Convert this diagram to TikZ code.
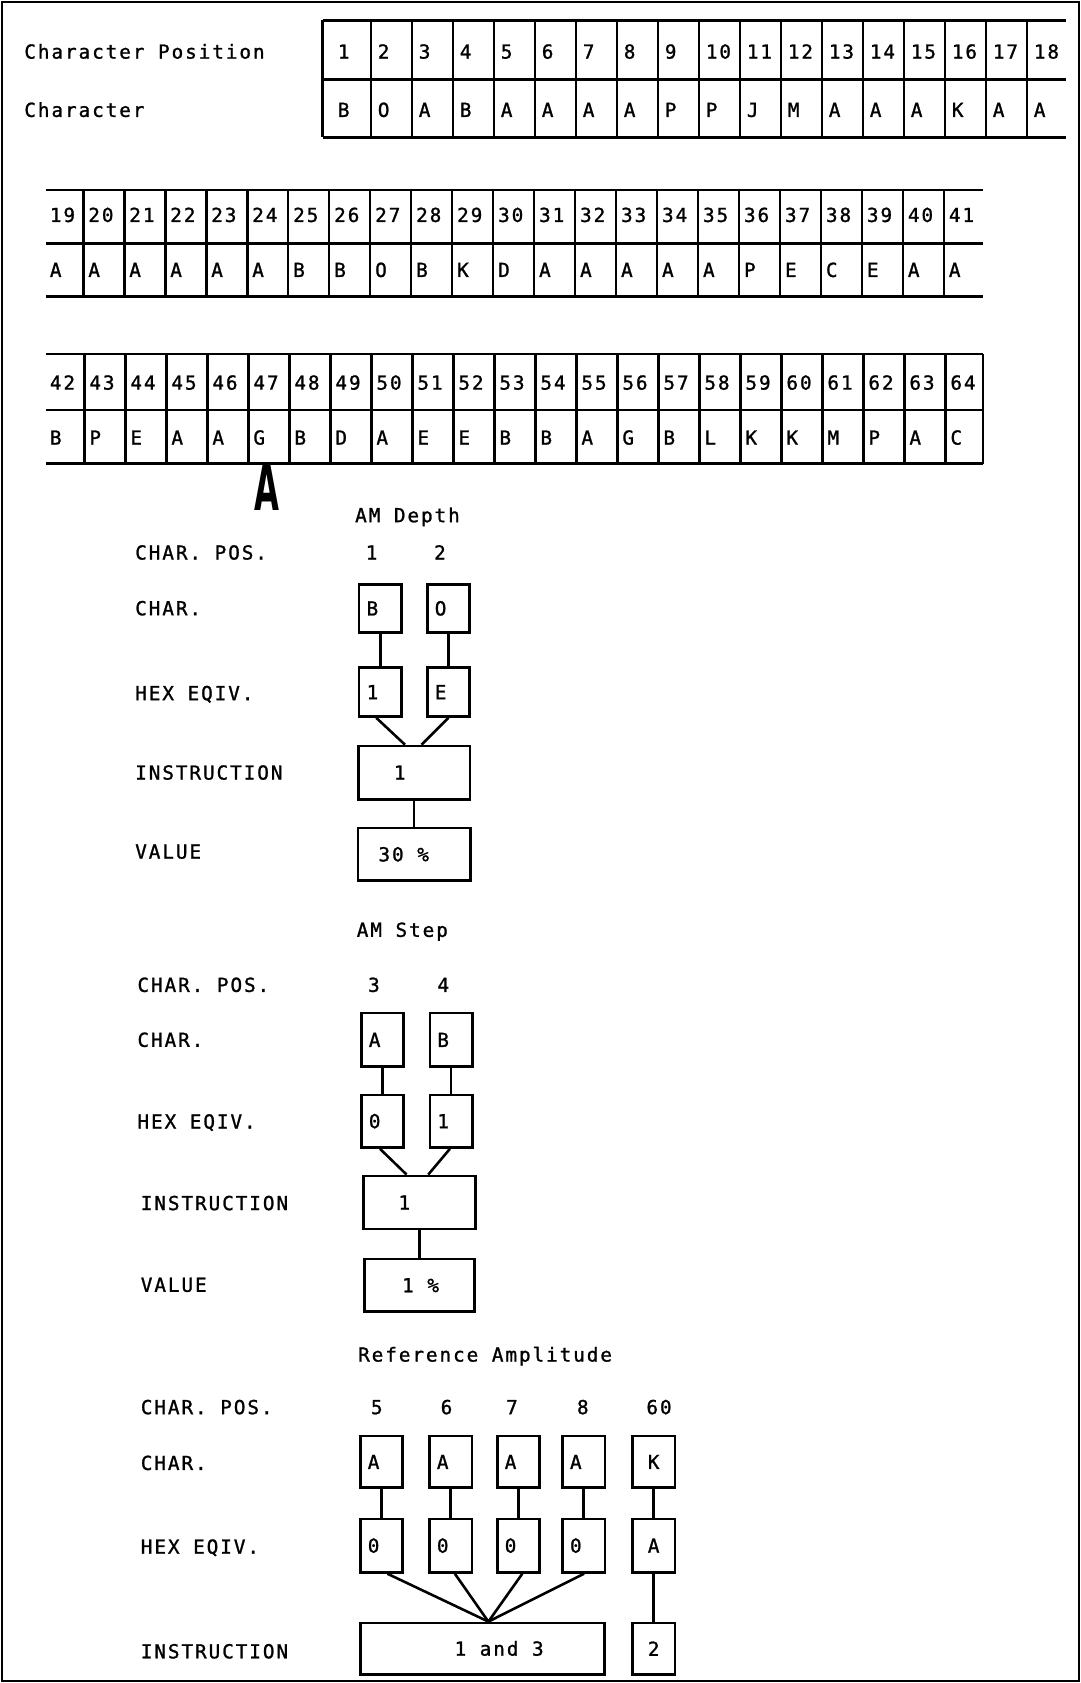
\documentclass[tikz,border=0pt]{standalone}
\usepackage{graphicx}
\usepackage{fontspec}
\newfontfamily\twf[LetterSpace=10,FakeBold=1.2]{DejaVu Sans Mono}
\newfontfamily\scrf{DejaVu Sans}
\usetikzlibrary{calc}
\begin{document}
\begin{tikzpicture}[x=1pt,y=-1pt,
  ln/.style={line width=2.4pt},
  txt/.style={font=\twf\fontsize{18}{21}\selectfont, inner sep=0pt, anchor=base west},
  ctxt/.style={font=\twf\fontsize{18}{21}\selectfont, inner sep=0pt, anchor=base},
  sb/.style={draw, line width=2.4pt, font=\twf\fontsize{18}{21}\selectfont, minimum width=39.5pt, minimum height=#1, inner ysep=0pt, inner xsep=7pt, text width=25.5pt, align=left},
  sbc/.style={sb=#1, align=center},
  bb/.style={draw, line width=2.4pt, inner sep=0pt},
]
\useasboundingbox (0,0) rectangle (1007,1568);
\draw[line width=2.2pt] (1.8,1.8) rectangle (1005.2,1566);

% ---------- table row 1 ----------
\node[txt] (lcp) at (22.5,54.6) {Character Position};
\node[txt] (lch) at (22.5,108.9) {Character};
\draw[ln] (300.6,19) -- (993,19) (300.6,74) -- (993,74) (300.6,128) -- (993,128) (300.6,19) -- (300.6,128);
\foreach \k in {0,...,16} \draw[ln] ({345.8+38.2*\k},19) -- ({345.8+38.2*\k},128);
\node[txt] (n1) at (314.6,54.6) {1};
\node[txt] (c1) at (314.6,108.9) {B};
\foreach \i/\c [evaluate=\i as \xx using 345.8+38.2*(\i-2)+6] in {2/O,3/A,4/B,5/A,6/A,7/A,8/A,9/P,10/P,11/J,12/M,13/A,14/A,15/A,16/K,17/A,18/A} {
  \node[txt] (n\i) at (\xx,54.6) {\i};
  \node[txt] (c\i) at (\xx,108.9) {\c};
}

% ---------- table row 2 ----------
\draw[ln] (42.8,177) -- (916,177) (42.8,227) -- (916,227) (42.8,276) -- (916,276);
\foreach \k in {0,...,21} \draw[ln] ({77.6+38.18*\k},177) -- ({77.6+38.18*\k},276);
\node[txt] (n19) at (46.3,206.8) {19};
\node[txt] (c19) at (46.3,258) {A};
\foreach \i/\c [evaluate=\i as \xx using 77.6+38.18*(\i-20)+4.5] in {20/A,21/A,22/A,23/A,24/A,25/B,26/B,27/O,28/B,29/K,30/D,31/A,32/A,33/A,34/A,35/A,36/P,37/E,38/C,39/E,40/A,41/A} {
  \node[txt] (n\i) at (\xx,206.8) {\i};
  \node[txt] (c\i) at (\xx,258) {\c};
}

% ---------- table row 3 ----------
\draw[ln] (42.8,330) -- (916,330) (42.8,382) -- (916,382) (42.8,432) -- (916,432) (916,330) -- (916,432);
\foreach \k in {0,...,21} \draw[ln] ({78.6+38.2*\k},330) -- ({78.6+38.2*\k},432);
\node[txt] (n42) at (46.3,363) {42};
\node[txt] (c42) at (46.3,414.2) {B};
\foreach \i/\c [evaluate=\i as \xx using 78.6+38.2*(\i-43)+4.5] in {43/P,44/E,45/A,46/A,47/G,48/B,49/D,50/A,51/E,52/E,53/B,54/B,55/A,56/G,57/B,58/L,59/K,60/K,61/M,62/P,63/A,64/C} {
  \node[txt] (n\i) at (\xx,363) {\i};
  \node[txt] (c\i) at (\xx,414.2) {\c};
}

% handwritten mark
\node[inner sep=0pt, font=\scrf\bfseries\fontsize{60}{60}\selectfont] (scr) at (248.5,454) {\scalebox{0.5}[1]{A}};

% ---------- AM Depth ----------
\node[txt] (tad) at (330.7,486.5) {AM Depth};
\node[txt] (dl1) at (125.8,521.3) {CHAR. POS.};
\node[txt] (dl2) at (125.8,573.2) {CHAR.};
\node[txt] (dl3) at (125.8,652.3) {HEX EQIV.};
\node[txt] (dl4) at (125.8,726.3) {INSTRUCTION};
\node[txt] (dl5) at (125.8,799.9) {VALUE};
\node[ctxt] (dp1) at (346.2,521.3) {1};
\node[ctxt] (dp2) at (409.9,521.3) {2};
\node[sb=45pt] (dc1) at (354.3,566.8) {B};
\node[sb=45pt] (dc2) at (417.8,566.8) {O};
\node[sb=45.6pt] (dh1) at (354.3,644.8) {1};
\node[sb=45.6pt] (dh2) at (417.8,644.8) {E};
\node[bb, minimum width=104pt, minimum height=49.6pt] (di) at (385.8,719.8) {};
\node[txt] (dit) at ($(di.west)+(34.2,6.5)$) {1};
\node[bb, minimum width=104.7pt, minimum height=48.8pt] (dv) at (385.8,796) {};
\node[txt] (dvt) at ($(dv.west)+(20.2,6.5)$) {30 \%};
\draw[ln] (dc1.south) -- (dh1.north);
\draw[ln] (dc2.south) -- (dh2.north);
\draw[ln] ($(dh1.south)+(-3.7,0)$) -- ($(di.north)+(-8.5,0)$);
\draw[ln] (dh2.south) -- ($(di.north)+(7,0)$);
\draw[ln] (di.south) -- (dv.north);

% ---------- AM Step ----------
\node[txt] (tas) at (332.2,872.8) {AM Step};
\node[txt] (sl1) at (127.9,924.1) {CHAR. POS.};
\node[txt] (sl2) at (127.9,975.3) {CHAR.};
\node[txt] (sl3) at (127.9,1051.4) {HEX EQIV.};
\node[txt] (sl4) at (131,1127.4) {INSTRUCTION};
\node[txt] (sl5) at (131,1203.5) {VALUE};
\node[ctxt] (sp1) at (348.4,924.1) {3};
\node[ctxt] (sp2) at (413,924.1) {4};
\node[sb=49.8pt] (sc1) at (356.4,968.8) {A};
\node[sb=49.8pt] (sc2) at (420.2,968.8) {B};
\node[sb=49.1pt] (sh1) at (356.4,1044.55) {0};
\node[sb=49.1pt] (sh2) at (420.2,1044.55) {1};
\node[bb, minimum width=104pt, minimum height=49.7pt] (si) at (390.8,1120.35) {};
\node[txt] (sit) at ($(si.west)+(33.5,6.5)$) {1};
\node[bb, minimum width=102.5pt, minimum height=48.9pt] (sv) at (390.8,1197.45) {};
\node[ctxt] (svt) at ($(sv.center)+(1,6.5)$) {1 \%};
\draw[ln] (sc1.south) -- (sh1.north);
\draw[ln] (sc2.south) -- (sh2.north);
\draw[ln] ($(sh1.south)+(-2.4,0)$) -- ($(si.north)+(-12,0)$);
\draw[ln] ($(sh2.south)+(-1,0)$) -- ($(si.north)+(8.2,0)$);
\draw[ln] (si.south) -- (sv.north);

% ---------- Reference Amplitude ----------
\node[txt] (tra) at (333.5,1268.5) {Reference Amplitude};
\node[txt] (rl1) at (131,1317.5) {CHAR. POS.};
\node[txt] (rl2) at (131,1369.5) {CHAR.};
\node[txt] (rl3) at (131,1447.5) {HEX EQIV.};
\node[txt] (rl4) at (131,1545) {INSTRUCTION};
\node[ctxt] (rp1) at (351,1317.5) {5};
\node[ctxt] (rp2) at (416,1317.5) {6};
\node[ctxt] (rp3) at (477,1317.5) {7};
\node[ctxt] (rp4) at (543,1317.5) {8};
\node[ctxt] (rp5) at (614,1317.5) {60};
\node[sb=48pt] (rc1) at (355.4,1362) {A};
\node[sb=48pt] (rc2) at (419.8,1362) {A};
\node[sb=48pt] (rc3) at (483,1362) {A};
\node[sb=48pt] (rc4) at (543.8,1362) {A};
\node[sbc=48pt] (rc5) at (609,1362) {K};
\node[sb=50pt] (rh1) at (355.4,1440) {0};
\node[sb=50pt] (rh2) at (419.8,1440) {0};
\node[sb=50pt] (rh3) at (483,1440) {0};
\node[sb=50pt] (rh4) at (543.8,1440) {0};
\node[sbc=50pt] (rh5) at (609,1440) {A};
\node[bb, minimum width=227pt, minimum height=48pt] (ri) at (449.5,1536) {};
\node[txt] (rit) at ($(ri.west)+(88.5,6.5)$) {1 and 3};
\node[sbc=48pt] (r2) at (609,1536) {2};
\coordinate (cv) at ($(ri.north)+(5.5,0)$);
\foreach \n in {1,...,5} \draw[ln] (rc\n.south) -- (rh\n.north);
\draw[ln] ($(rh1.south)+(5.6,0)$) -- (cv);
\draw[ln] ($(rh2.south)+(4,0)$) -- (cv);
\draw[ln] ($(rh3.south)+(3.6,0)$) -- (cv);
\draw[ln] ($(rh4.south)+(0.3,0)$) -- (cv);
\draw[ln] (rh5.south) -- (r2.north);
\end{tikzpicture}
\end{document}
